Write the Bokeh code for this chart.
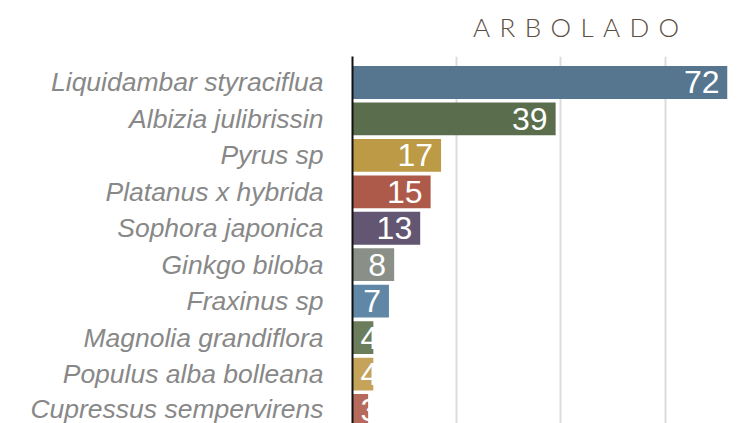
from bokeh.plotting import figure
from bokeh.models import Range1d, FixedTicker, ColumnDataSource, Div
from bokeh.layouts import column
from bokeh.embed import file_html
from bokeh.resources import INLINE
from bokeh.core.properties import value

title_text = "ARBOLADO"
categories = ["Liquidambar styraciflua", "Albizia julibrissin", "Pyrus sp",
              "Platanus x hybrida", "Sophora japonica", "Ginkgo biloba",
              "Fraxinus sp", "Magnolia grandiflora", "Populus alba bolleana",
              "Cupressus sempervirens"]
counts = [72, 39, 17, 15, 13, 8, 7, 4, 4, 3]
colors = ["#56758f", "#5a6e4d", "#bd9a45", "#ad5a4b", "#625673",
          "#8a8f88", "#6087a5", "#6b7d5b", "#c5a45a", "#b56a5c"]
grid_ticks = [20, 40, 60]

positions = list(range(len(categories)))
X_MAX = max(counts)
FRAME_W = 375
px_per_unit = FRAME_W / X_MAX
fits = [(len(str(v)) * 18 + 16) <= v * px_per_unit for v in counts]

source = ColumnDataSource(dict(
    y=positions,
    count=counts,
    color=colors,
    label=[str(v) for v in counts],
    lx=[v if f else 0 for v, f in zip(counts, fits)],
    align=["right" if f else "left" for f in fits],
    xoff=[-8 if f else 8 for f in fits],
))

title = Div(
    text=('<div style="font-family: Lato, sans-serif; font-weight: 300; '
          'font-size: 26px; letter-spacing: 9.4px; color: #5b4e42; '
          'padding-left: 473px; line-height: 26px; margin-top: 14px; '
          'white-space: nowrap;">' + title_text + '</div>'),
    width=751, height=48, margin=0,
)

p = figure(width=751, height=375, output_backend="svg", toolbar_location=None,
           x_range=Range1d(0, X_MAX), y_range=Range1d(9.357, -0.713),
           x_axis_location=None,
           min_border_left=352, min_border_right=24, min_border_top=8,
           min_border_bottom=0, margin=0)
p.outline_line_color = None
p.background_fill_color = "white"
p.border_fill_color = "white"

p.hbar(y="y", left=0, right="count", height=0.9, fill_color="color",
       line_color=None, source=source)

p.text(x="lx", y="y", text="label", text_align="align", x_offset="xoff",
       text_baseline="middle", text_color="white", text_font_size="32px",
       text_font=value("Liberation Sans"), source=source)

p.xgrid.ticker = FixedTicker(ticks=grid_ticks)
p.xgrid.grid_line_color = "#dcdcdc"
p.xgrid.grid_line_width = 2
p.ygrid.visible = False

ax = p.yaxis[0]
ax.ticker = FixedTicker(ticks=positions)
ax.major_label_overrides = {i: c for i, c in zip(positions, categories)}
ax.axis_line_color = "#111111"
ax.axis_line_width = 2
ax.major_tick_line_color = None
ax.minor_tick_line_color = None
ax.major_tick_out = 0
ax.major_tick_in = 0
ax.major_label_standoff = 29
ax.major_label_text_font = "Liberation Sans"
ax.major_label_text_font_style = "italic"
ax.major_label_text_font_size = "26.5px"
ax.major_label_text_color = "#888888"

layout = column(title, p, margin=0, spacing=0)
open("out.html", "w").write(file_html(layout, INLINE))
